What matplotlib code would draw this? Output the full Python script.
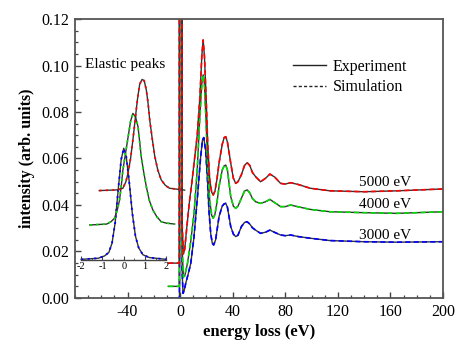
import matplotlib
matplotlib.use("Agg")
import matplotlib.pyplot as plt
from matplotlib.ticker import MultipleLocator, FormatStrFormatter

plt.rcParams['font.family'] = ['Liberation Serif', 'DejaVu Serif']
plt.rcParams['axes.unicode_minus'] = False

# --- main loss spectra (energy loss in eV, intensity) ---
x_3000 = [-9, -0.5, -0.3, 1.3, 1.5, 2.2, 3, 4.3, 6, 8.1, 10.5, 13.2, 15.5, 17, 18, 19.5,
          20.8, 22, 23.3, 24.5, 25.5, 27, 29.6, 32, 33.5, 34.7, 36, 38.5, 40.5, 42.3, 44,
          46.6, 49, 51, 53, 55, 57.4, 61.2, 65, 68.3, 72, 76.4, 80, 84, 90, 99, 114, 140,
          165, 200]
y_3000 = [0, 0, 0.6, 0.6, 0.012, 0.002, 0.003, 0.0064, 0.010, 0.0149, 0.026, 0.0436,
          0.060, 0.068, 0.069, 0.063, 0.0508, 0.037, 0.0275, 0.0235, 0.0228, 0.025, 0.035,
          0.0395, 0.0405, 0.0407, 0.039, 0.0307, 0.0275, 0.0264, 0.027, 0.0307, 0.0325,
          0.0328, 0.0318, 0.0302, 0.0292, 0.0278, 0.0283, 0.0292, 0.0282, 0.0271, 0.0268,
          0.0271, 0.0264, 0.0257, 0.0247, 0.0242, 0.0240, 0.0242]

x_4000 = [-9, -0.5, -0.3, 1.3, 1.5, 2.5, 3.5, 5.6, 8, 10.6, 13, 15, 16.5, 17.5, 18.5, 19.8,
          21, 22.5, 24, 25.2, 26.5, 28, 29.6, 32, 33.5, 34.7, 36, 38.5, 40.5, 42.3, 44,
          46.6, 49, 51, 53, 55, 57.4, 61.2, 65, 68.3, 72, 76.4, 80, 84, 90, 99, 114, 140,
          165, 200]
y_4000 = [0.005, 0.005, 0.6, 0.6, 0.022, 0.009, 0.0095, 0.0149, 0.024, 0.0366, 0.055,
          0.078, 0.092, 0.096, 0.092, 0.075, 0.056, 0.042, 0.0355, 0.0343, 0.036, 0.041,
          0.0479, 0.055, 0.0568, 0.0572, 0.055, 0.0436, 0.0395, 0.0386, 0.0395, 0.0429,
          0.046, 0.0465, 0.0452, 0.0428, 0.0414, 0.0407, 0.0414, 0.0424, 0.041, 0.0393,
          0.0393, 0.040, 0.0392, 0.0381, 0.0371, 0.0367, 0.0364, 0.0371]

x_5000 = [-9, -0.5, -0.3, 1.3, 1.5, 2.5, 3.5, 5, 7, 9, 11, 13, 15, 16.5, 17.5, 18.5, 19.8,
          21, 22.5, 24, 25.2, 26.5, 28, 29.6, 32, 33.5, 34.7, 36, 38.5, 40.5, 42.3, 44,
          46.6, 49, 51, 53, 55, 57.4, 61.2, 65, 68.3, 72, 76.4, 80, 84, 90, 99, 114, 140,
          165, 200]
y_5000 = [0.015, 0.015, 0.6, 0.6, 0.032, 0.019, 0.021, 0.03, 0.041, 0.05, 0.06, 0.07,
          0.086, 0.104, 0.111, 0.104, 0.086, 0.066, 0.051, 0.0455, 0.0443, 0.046, 0.051,
          0.058, 0.066, 0.069, 0.0694, 0.067, 0.058, 0.0515, 0.0493, 0.050, 0.053, 0.057,
          0.0582, 0.057, 0.054, 0.0522, 0.050, 0.0515, 0.0533, 0.052, 0.0493, 0.049,
          0.0496, 0.0488, 0.0472, 0.0461, 0.0457, 0.0461, 0.0469]

# --- elastic peaks (inset, relative energy in eV) ---
u_blue = [-2, -1.2, -0.9, -0.7, -0.55, -0.4, -0.25, -0.12, 0, 0.12, 0.25, 0.4, 0.55, 0.7,
          0.9, 1.2, 2]
v_blue = [0.0166, 0.0171, 0.0181, 0.0196, 0.0236, 0.0326, 0.0476, 0.0596, 0.0644, 0.0606,
          0.0506, 0.0366, 0.0266, 0.0216, 0.0186, 0.0174, 0.0166]

u_green = [-1.6, -0.8, -0.6, -0.43, -0.3, -0.2, -0.12, -0.04, 0.08, 0.2, 0.32, 0.43, 0.55,
           0.67, 0.75, 0.82, 0.94, 1.06, 1.2, 1.37, 1.55, 1.76, 2.0, 2.39]
v_green = [0.0314, 0.0318, 0.0328, 0.0343, 0.038, 0.042, 0.048, 0.055, 0.062, 0.069, 0.076,
           0.0794, 0.078, 0.0737, 0.067, 0.0608, 0.054, 0.0479, 0.042, 0.0378, 0.035,
           0.0328, 0.0322, 0.0318]

u_red = [-1.15, -0.3, -0.04, 0.1, 0.2, 0.32, 0.43, 0.54, 0.64, 0.75, 0.86, 0.96, 1.06, 1.14,
         1.22, 1.33, 1.46, 1.6, 1.76, 1.95, 2.15, 2.86]
v_red = [0.0462, 0.0465, 0.0472, 0.050, 0.0536, 0.060, 0.068, 0.077, 0.0852, 0.092, 0.094,
         0.0935, 0.0895, 0.084, 0.0766, 0.069, 0.0608, 0.055, 0.0508, 0.0485, 0.0472, 0.0464]

energies = ['3000 eV', '4000 eV', '5000 eV']
label_pos = [(136, 0.0268), (136, 0.0400), (136, 0.0496)]

fig = plt.figure(figsize=(4.55, 3.42), dpi=100)
ax = fig.add_axes([0.1648, 0.1287, 0.8088, 0.8157])

exp_kw = dict(color='#333333', lw=1.0)
sim_dash = (0, (3, 2))
for xs, ys, c in [(x_3000, y_3000, '#0000ff'), (x_4000, y_4000, '#00dd00'),
                  (x_5000, y_5000, '#ff0000')]:
    ax.plot(xs, ys, **exp_kw)
    ax.plot(xs, ys, color=c, lw=1.2, ls=sim_dash)

for (tx, ty), lab in zip(label_pos, energies):
    ax.text(tx, ty, lab, fontsize=11, va='center', ha='left')

ax.set_xlim(-80, 200)
ax.set_ylim(0, 0.12)
ax.set_xticks([-40, 0, 40, 80, 120, 160, 200])
ax.xaxis.set_minor_locator(MultipleLocator(10))
ax.yaxis.set_major_locator(MultipleLocator(0.02))
ax.yaxis.set_minor_locator(MultipleLocator(0.005))
ax.yaxis.set_major_formatter(FormatStrFormatter('%.2f'))
ax.tick_params(which='both', direction='in', top=False, right=False,
               labelsize=11.5, color='#444444')
ax.tick_params(which='major', length=4.5, width=1.0, pad=4)
ax.tick_params(which='minor', length=2.5, width=0.9)
for sp in ax.spines.values():
    sp.set_color('#555555')
    sp.set_linewidth(1.3)

ax.set_xlabel('energy loss (eV)', fontsize=12, fontweight='bold', labelpad=3)
ax.set_ylabel('intensity (arb. units)', fontsize=11.5, fontweight='bold', labelpad=5)

# legend
h1, = ax.plot([], [], color='#222222', lw=1.0, label='Experiment')
h2, = ax.plot([], [], color='#222222', lw=1.0, ls=(0, (2.2, 1.6)), label='Simulation')
ax.legend(handles=[h1, h2], loc='center left', bbox_to_anchor=(0.592, 0.792),
          frameon=False, fontsize=11.5, handlelength=2.1, handletextpad=0.4,
          labelspacing=0.3, borderpad=0, borderaxespad=0)

ax.text(-72.5, 0.1003, 'Elastic peaks', fontsize=11, va='center', ha='left')

# inset with elastic peaks
ins = ax.inset_axes([-75.3, 0.0165, 64.8, 0.08], transform=ax.transData)
ins.set_xlim(-2, 2)
ins.set_ylim(0.0165, 0.0965)
ins.patch.set_visible(False)
for s in ['top', 'right', 'left']:
    ins.spines[s].set_visible(False)
ins.spines['bottom'].set_color('#444444')
ins.spines['bottom'].set_linewidth(1.0)
ins.set_yticks([])
ins.xaxis.set_major_locator(MultipleLocator(1))
ins.xaxis.set_minor_locator(MultipleLocator(0.5))
ins.tick_params(which='both', direction='in', labelsize=7.5, pad=1.5, color='#444444')
ins.tick_params(which='major', length=3)
ins.tick_params(which='minor', length=1.8)

dots = (0, (1.2, 2.4))
for us, vs, c in [(u_blue, v_blue, '#0000ff'), (u_green, v_green, '#00dd00'),
                  (u_red, v_red, '#ff0000')]:
    ins.plot(us, vs, color='#333333', lw=1.0, clip_on=False)
    ins.plot(us, vs, color=c, lw=1.3, ls=dots, clip_on=False)

fig.savefig('out.png', dpi=100)
